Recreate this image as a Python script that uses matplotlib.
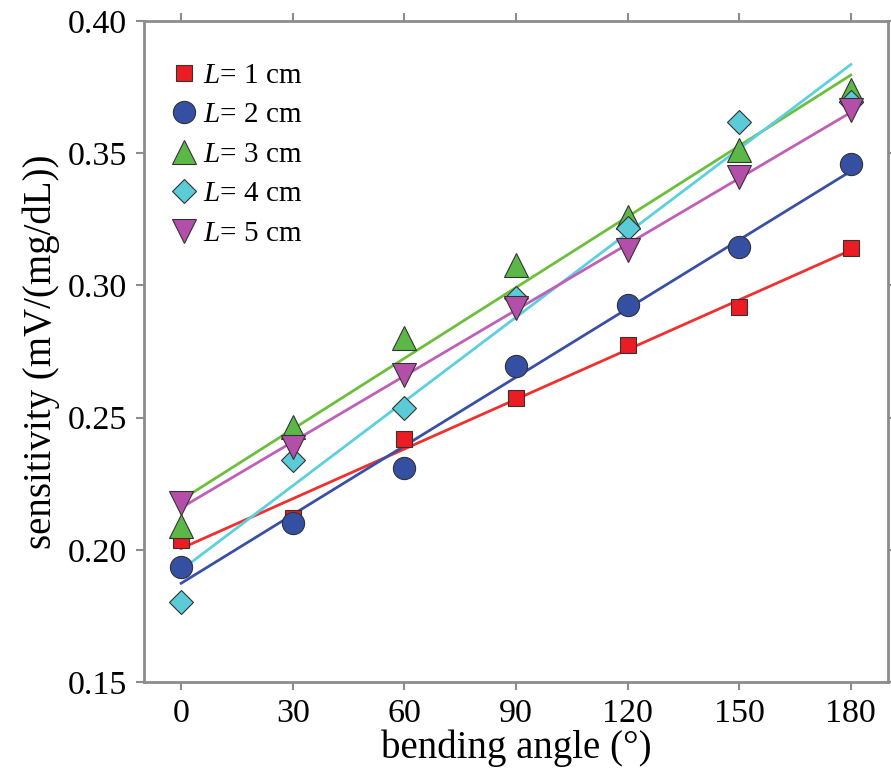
import numpy as np
import matplotlib
matplotlib.use("Agg")
import matplotlib.pyplot as plt

plt.rcParams['font.family'] = 'Liberation Serif'
plt.rcParams['mathtext.fontset'] = 'custom'
plt.rcParams['mathtext.it'] = 'Liberation Serif:italic'
plt.rcParams['mathtext.rm'] = 'Liberation Serif'

# bending angle (deg)
angle = [0, 30, 60, 90, 120, 150, 180]

# sensitivity (mV/(mg/dL))
L1 = [0.2037, 0.2120, 0.2419, 0.2574, 0.2775, 0.2919, 0.3140]
L2 = [0.1936, 0.2101, 0.2308, 0.2695, 0.2926, 0.3144, 0.3459]
L3 = [0.2090, 0.2466, 0.2800, 0.3077, 0.3260, 0.3512, 0.3739]
L4 = [0.1801, 0.2340, 0.2535, 0.2951, 0.3216, 0.3619, 0.3695]
L5 = [0.2176, 0.2390, 0.2660, 0.2913, 0.3134, 0.3411, 0.3663]

labels = [r'$\mathit{L}$= 1 cm', r'$\mathit{L}$= 2 cm', r'$\mathit{L}$= 3 cm',
          r'$\mathit{L}$= 4 cm', r'$\mathit{L}$= 5 cm']
markers = ['s', 'o', '^', 'D', 'v']
msizes = [11.5, 16, 17, 12.5, 17]
face_cols = ['#ec1c24', '#3550a3', '#5cb846', '#5ccbd8', '#b44fa9']
line_cols = ['#f0302f', '#3a50a8', '#6cbf3c', '#5ccfe0', '#c05fb8']

series = [L1, L2, L3, L4, L5]
x = np.array(angle)

fig = plt.figure(figsize=(8.91, 7.8), dpi=100)
ax = fig.add_axes([144/891, 1-682/780, (888-144)/891, (682-21)/780])

# fitted lines first (under the markers)
for ys, lc in zip(series, line_cols):
    k, b = np.polyfit(x, ys, 1)
    ax.plot([x[0], x[-1]], [k*x[0]+b, k*x[-1]+b], color=lc, lw=2, zorder=2)

for ys, m, ms, fc, lab in zip(series, markers, msizes, face_cols, labels):
    ax.plot(x, ys, linestyle='none', marker=m, ms=ms, mfc=fc, mec='#333333',
            mew=0.8, label=lab, zorder=3)

ax.set_xlim(-10, 190)
ax.set_ylim(0.15, 0.40)
ax.set_xticks(angle)
ax.set_yticks([0.15, 0.20, 0.25, 0.30, 0.35, 0.40])
ax.set_yticklabels(['0.15', '0.20', '0.25', '0.30', '0.35', '0.40'])

for sp in ax.spines.values():
    sp.set_color('#8c8c8c')
    sp.set_linewidth(2)
ax.tick_params(direction='out', length=6, width=1.5, color='#8c8c8c',
               labelsize=24.5, top=True, right=True, pad=6)

ax.set_xlabel('bending angle (°)', fontsize=28, labelpad=0)
ax.set_ylabel('sensitivity (mV/(mg/dL))', fontsize=28, labelpad=6)

leg = ax.legend(loc='upper left', bbox_to_anchor=(0.015, 0.955), frameon=False,
                fontsize=21, handletextpad=0.05, labelspacing=0.45,
                handlelength=1.2, borderaxespad=0)

fig.savefig('out.png', dpi=100)
